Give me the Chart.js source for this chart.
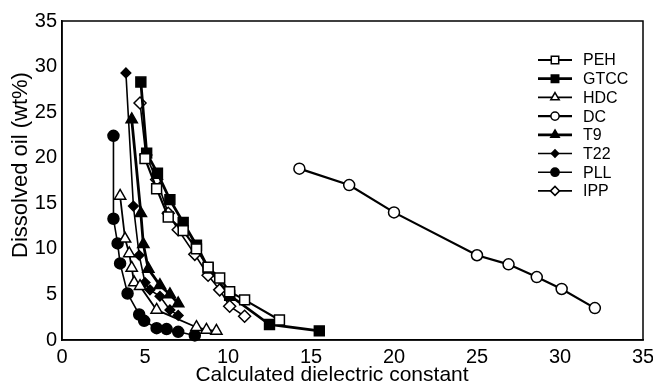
<!DOCTYPE html>
<html>
<head>
<meta charset="utf-8">
<script src="https://cdn.jsdelivr.net/npm/chart.js@4.4.1/dist/chart.umd.min.js"></script>
<style>
  html, body { margin: 0; padding: 0; background: #fff; }
  #wrap { width: 653px; height: 387px; }
</style>
</head>
<body>
<div id="wrap"><canvas id="chart"></canvas></div>
<script>
// values (x = calculated dielectric constant, y = dissolved oil wt%)
const seriesNames = ["PEH", "GTCC", "HDC", "DC", "T9", "T22", "PLL", "IPP"];
const xTickValues = [0, 5, 10, 15, 20, 25, 30, 35];
const yTickValues = [0, 5, 10, 15, 20, 25, 30, 35];
const xTitle = "Calculated dielectric constant";
const yTitle = "Dissolved oil (wt%)";

const pehX  = [5.0, 5.7, 6.4, 7.3, 8.1, 8.8, 9.5, 10.1, 11.0, 13.1];
const pehY  = [19.9, 16.6, 13.5, 12.0, 10.0, 8.0, 6.8, 5.3, 4.4, 2.2];
const gtccX = [4.75, 5.1, 5.75, 6.5, 7.3, 8.1, 8.8, 10.1, 12.5, 15.5];
const gtccY = [28.3, 20.5, 18.3, 15.4, 12.9, 10.4, 7.9, 4.9, 1.7, 1.0];
const hdcX  = [3.5, 3.8, 4.05, 4.2, 4.35, 4.7, 5.7, 8.1, 8.7, 9.3];
const hdcY  = [15.8, 11.1, 9.5, 7.9, 6.3, 5.9, 3.3, 1.4, 1.1, 1.0];
const dcX   = [14.3, 17.3, 20.0, 25.0, 26.9, 28.6, 30.1, 32.1];
const dcY   = [18.8, 17.0, 14.0, 9.3, 8.3, 6.9, 5.6, 3.5];
const t9X   = [4.2, 4.75, 4.9, 5.2, 5.9, 6.5, 7.0];
const t9Y   = [24.2, 13.9, 10.5, 7.8, 6.0, 5.0, 4.0];
const t22X  = [3.85, 4.3, 4.65, 5.0, 5.3, 5.9, 6.5, 7.0];
const t22Y  = [29.3, 14.7, 9.3, 6.3, 5.5, 4.8, 3.3, 2.7];
const pllX  = [3.1, 3.1, 3.35, 3.5, 3.95, 4.65, 4.95, 5.7, 6.3, 7.0, 8.0];
const pllY  = [22.4, 13.3, 10.6, 8.4, 5.1, 2.8, 2.1, 1.3, 1.2, 0.9, 0.5];
const ippX  = [4.7, 5.05, 5.7, 6.4, 7.0, 8.0, 8.8, 9.5, 10.1, 11.0];
const ippY  = [26.0, 20.3, 17.6, 13.9, 12.1, 9.4, 7.1, 5.5, 3.7, 2.6];

const FONT = "Arial, 'Liberation Sans', sans-serif";
const pts = (xs, ys) => xs.map((x, i) => ({ x: x, y: ys[i] }));

function series(label, xs, ys, style, fill, radius, lw) {
  return {
    label: label,
    data: pts(xs, ys),
    showLine: true,
    borderColor: "#000",
    borderWidth: lw,
    pointStyle: style,
    pointRadius: radius,
    pointHoverRadius: radius,
    pointBackgroundColor: fill,
    pointBorderColor: "#000",
    pointBorderWidth: 1.5,
    clip: 10
  };
}

const datasets = [
  series("PEH",  pehX,  pehY,  "rect",     "#fff", 7,   2.2),
  series("GTCC", gtccX, gtccY, "rect",     "#000", 7,   2.8),
  series("HDC",  hdcX,  hdcY,  "triangle", "#fff", 6.5, 1.8),
  series("DC",   dcX,   dcY,   "circle",   "#fff", 5.5, 2.2),
  series("T9",   t9X,   t9Y,   "triangle", "#000", 6.5, 2.8),
  series("T22",  t22X,  t22Y,  "rectRot",  "#000", 4.8, 1.6),
  series("PLL",  pllX,  pllY,  "circle",   "#000", 5.5, 1.6),
  series("IPP",  ippX,  ippY,  "rectRot",  "#fff", 6,   1.6)
];

// frame round the plot area + axis titles (placed like the original, a bit off-centre)
const framePlugin = {
  id: "frame",
  afterDraw(chart) {
    const a = chart.chartArea, ctx = chart.ctx;
    ctx.save();
    ctx.strokeStyle = "#000";
    ctx.lineWidth = 1.5;
    ctx.strokeRect(a.left, a.top, a.right - a.left, a.bottom - a.top);
    ctx.fillStyle = "#000";
    ctx.font = "21px " + FONT;
    ctx.textAlign = "center";
    ctx.textBaseline = "middle";
    ctx.fillText(xTitle, 332, 375);
    ctx.translate(21, 165);
    ctx.rotate(-Math.PI / 2);
    ctx.font = "22px " + FONT;
    ctx.fillText(yTitle, 0, 0);
    ctx.restore();
  }
};

// legend inside the plot, line with marker in the middle
const legendPlugin = {
  id: "boxLegend",
  afterDraw(chart) {
    const ctx = chart.ctx;
    ctx.save();
    chart.data.datasets.forEach((ds, i) => {
      const y = 60 + i * 18.7;
      ctx.strokeStyle = "#000";
      ctx.lineWidth = ds.borderWidth;
      ctx.beginPath();
      ctx.moveTo(538, y);
      ctx.lineTo(572, y);
      ctx.stroke();
      ctx.fillStyle = ds.pointBackgroundColor;
      ctx.lineWidth = 1.5;
      Chart.helpers.drawPoint(ctx, {
        pointStyle: ds.pointStyle,
        radius: ds.pointRadius * 0.75,
        borderWidth: 1.5,
        rotation: 0
      }, 555, y);
      ctx.fillStyle = "#000";
      ctx.font = "16px " + FONT;
      ctx.textBaseline = "middle";
      ctx.textAlign = "left";
      ctx.fillText(ds.label, 583, y + 1);
    });
    ctx.restore();
  }
};

new Chart(document.getElementById("chart"), {
  type: "scatter",
  data: { datasets: datasets },
  options: {
    responsive: true,
    maintainAspectRatio: false,
    animation: false,
    layout: { padding: { top: 21, right: 0, left: 0, bottom: 0 } },
    plugins: { legend: { display: false }, tooltip: { enabled: false } },
    scales: {
      x: {
        type: "linear",
        min: 0, max: 35,
        afterBuildTicks: s => { s.ticks = xTickValues.map(v => ({ value: v })); },
        afterFit: s => { s.height = 47; s.paddingRight = 10; },
        grid: { display: false, drawTicks: false },
        border: { display: true, color: "#000", width: 1.5 },
        ticks: { color: "#000", padding: 5, font: { family: FONT, size: 20 } },
        title: { display: false }
      },
      y: {
        type: "linear",
        min: 0, max: 35,
        afterBuildTicks: s => { s.ticks = yTickValues.map(v => ({ value: v })); },
        afterFit: s => { s.width = 62; },
        grid: { display: false, drawTicks: false },
        border: { display: true, color: "#000", width: 1.5 },
        ticks: { color: "#000", padding: 5, font: { family: FONT, size: 20 } },
        title: { display: false }
      }
    }
  },
  plugins: [framePlugin, legendPlugin]
});
</script>
</body>
</html>
